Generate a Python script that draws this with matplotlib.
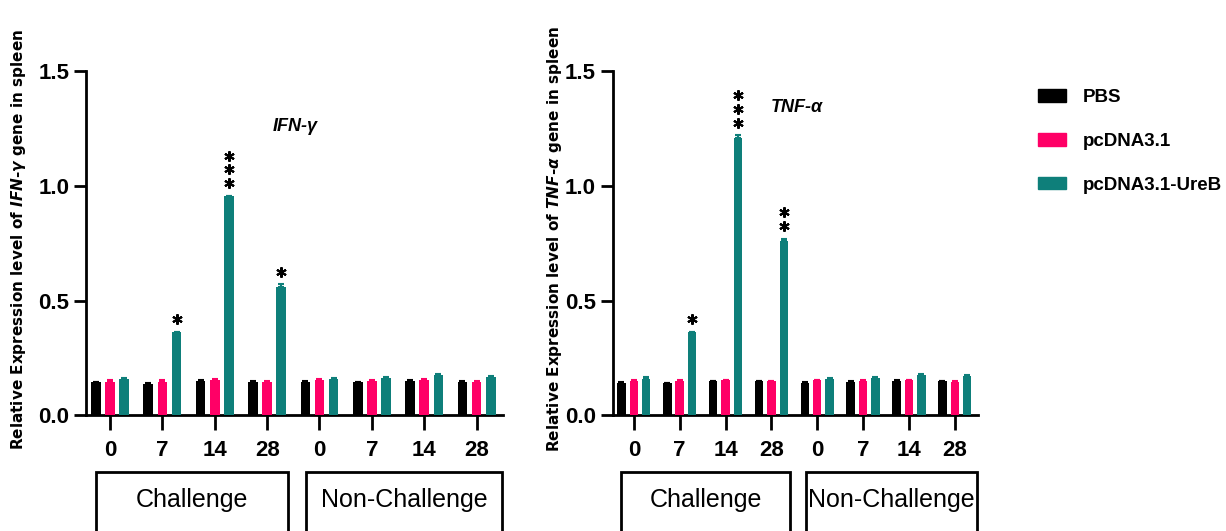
import matplotlib
matplotlib.use("Agg")
import matplotlib.pyplot as plt
import numpy as np
from matplotlib.patches import Rectangle, Patch
from matplotlib.transforms import blended_transform_factory

# ---- data -----------------------------------------------------------------
days = ["0", "7", "14", "28", "0", "7", "14", "28"]
groups = ["Challenge", "Non-Challenge"]
series = ["PBS", "pcDNA3.1", "pcDNA3.1-UreB"]

ifn_pbs = [0.143, 0.138, 0.151, 0.147, 0.143, 0.143, 0.151, 0.147]
ifn_pc = [0.147, 0.147, 0.154, 0.147, 0.154, 0.150, 0.154, 0.144]
ifn_ureb = [0.157, 0.361, 0.954, 0.560, 0.157, 0.161, 0.174, 0.167]
ifn_err_pbs = [0.002, 0.002, 0.002, 0.003, 0.005, 0.004, 0.002, 0.002]
ifn_err_pc = [0.005, 0.005, 0.003, 0.003, 0.003, 0.005, 0.003, 0.004]
ifn_err_ureb = [0.007, 0.004, 0.003, 0.010, 0.006, 0.004, 0.004, 0.006]
ifn_stars = [0, 1, 3, 1, 0, 0, 0, 0]

tnf_pbs = [0.142, 0.139, 0.149, 0.148, 0.142, 0.145, 0.151, 0.148]
tnf_pc = [0.149, 0.148, 0.152, 0.148, 0.152, 0.149, 0.152, 0.144]
tnf_ureb = [0.158, 0.361, 1.210, 0.760, 0.156, 0.163, 0.175, 0.169]
tnf_err_pbs = [0.002, 0.002, 0.002, 0.003, 0.005, 0.004, 0.002, 0.002]
tnf_err_pc = [0.005, 0.004, 0.003, 0.003, 0.003, 0.005, 0.003, 0.004]
tnf_err_ureb = [0.007, 0.004, 0.010, 0.010, 0.006, 0.004, 0.004, 0.006]
tnf_stars = [0, 1, 3, 2, 0, 0, 0, 0]

BLACK, PINK, TEAL = "#000000", "#ff0066", "#0e7f7a"
colors = [BLACK, PINK, TEAL]

SANS = ["Liberation Sans", "DejaVu Sans"]
plt.rcParams.update({
    "mathtext.fontset": "custom",
    "mathtext.it": "DejaVu Sans:italic:bold",
    "mathtext.rm": "DejaVu Sans:bold",
})

fig = plt.figure(figsize=(12.26, 5.31), dpi=100)
ax1 = fig.add_axes([0.0701, 0.218, 0.340, 0.648])
ax2 = fig.add_axes([0.4998, 0.218, 0.2977, 0.648])


def panel(ax, vals, errs, stars, gene, gene_xy, ylab_x):
    x = np.arange(len(days))
    w, off = 0.185, 0.27
    for i, (v, e, c) in enumerate(zip(vals, errs, colors)):
        xi = x + (i - 1) * off
        ax.bar(xi, v, width=w, color=c, zorder=3)
        ax.errorbar(xi, v, yerr=[np.zeros(len(e)), e], fmt="none", ecolor=c,
                    elinewidth=1.5, capsize=2.5, capthick=1.5, zorder=3)
    # significance asterisks stacked above the UreB bar
    top = np.array(vals[2]) + np.array(errs[2])
    for xi, t, n in zip(x + off, top, stars):
        for k in range(n):
            ax.plot(xi, t + 0.055 + k * 0.06, marker=(6, 2, 0), ms=7.5,
                    mew=1.5, color="black", zorder=4)

    ax.set_xlim(-0.46, 7.5)
    ax.set_ylim(0, 1.5)
    ax.set_yticks([0, 0.5, 1.0, 1.5])
    ax.set_yticklabels(["0.0", "0.5", "1.0", "1.5"])
    ax.set_xticks(x)
    ax.set_xticklabels(days)
    for s in ("top", "right"):
        ax.spines[s].set_visible(False)
    for s in ("left", "bottom"):
        ax.spines[s].set_linewidth(2.0)
    ax.tick_params(axis="y", length=9, width=2.0, pad=3)
    ax.tick_params(axis="x", length=11, width=2.0, pad=7)
    for lab in ax.get_yticklabels() + ax.get_xticklabels():
        lab.set_fontfamily(SANS)
        lab.set_fontweight("bold")
        lab.set_fontsize(16)

    ax.text(gene_xy[0], gene_xy[1], gene, fontsize=13, fontstyle="italic",
            fontweight="bold", family=SANS, ha="center", va="center")

    # Challenge / Non-Challenge boxes under the day labels
    tr = blended_transform_factory(ax.transData, ax.transAxes)
    for (x0, x1), g in zip([(-0.27, 3.4), (3.75, 7.48)], groups):
        ax.add_patch(Rectangle((x0, -0.45), x1 - x0, 0.285, transform=tr,
                               fill=False, lw=2.0, ec="black", clip_on=False))
        ax.text((x0 + x1) / 2, -0.247, g, transform=tr, ha="center",
                va="center", fontsize=18, family=SANS)

    gene_tex = gene.replace("-", "}$-$\\mathit{")
    fig.text(ylab_x, 0.55,
             "Relative Expression level of $\\mathit{" + gene_tex + "}$ gene in spleen",
             rotation=90, ha="center", va="center", fontsize=11,
             fontweight="bold", family="DejaVu Sans")


panel(ax1, [ifn_pbs, ifn_pc, ifn_ureb], [ifn_err_pbs, ifn_err_pc, ifn_err_ureb],
      ifn_stars, "IFN-γ", (3.53, 1.257), 0.015)
panel(ax2, [tnf_pbs, tnf_pc, tnf_ureb], [tnf_err_pbs, tnf_err_pc, tnf_err_ureb],
      tnf_stars, "TNF-α", (3.55, 1.34), 0.452)

handles = [Patch(facecolor=c, edgecolor=c) for c in colors]
fig.legend(handles, series, loc="upper left", bbox_to_anchor=(0.8467, 0.832),
           frameon=False, borderpad=0, borderaxespad=0, handlelength=1.5,
           handleheight=0.64, handletextpad=0.9, labelspacing=1.43,
           prop={"family": SANS, "weight": "bold", "size": 13.5})

fig.savefig("out.png", dpi=100, facecolor="white")
